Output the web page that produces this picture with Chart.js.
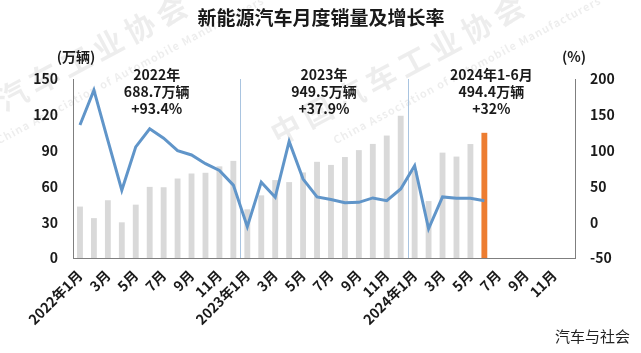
<!DOCTYPE html>
<html lang="zh">
<head>
  <meta charset="UTF-8" />
  <title>新能源汽车月度销量及增长率</title>
  <script src="https://cdn.jsdelivr.net/npm/chart.js"></script>
  <style>
    body { margin: 0; padding: 0; background: #fff; }
    .chart-container { width: 641px; height: 353px; position: relative; }
  </style>
</head>
<body>
  <div class="chart-container">
    <canvas id="nevChart"></canvas>
  </div>

  <script>
    // 月份标签（2022年1月〜2024年12月）
    const monthLabels = [
      '2022年1月', '2月', '3月', '4月', '5月', '6月', '7月', '8月', '9月', '10月', '11月', '12月',
      '2023年1月', '2月', '3月', '4月', '5月', '6月', '7月', '8月', '9月', '10月', '11月', '12月',
      '2024年1月', '2月', '3月', '4月', '5月', '6月', '7月', '8月', '9月', '10月', '11月', '12月'
    ];
    // 月度销量（万辆）
    const salesValues = [
      43.1, 33.4, 48.4, 29.9, 44.7, 59.6, 59.3, 66.6, 70.8, 71.4, 76.8, 81.4,
      40.8, 52.5, 65.3, 63.6, 71.7, 80.6, 78.0, 84.6, 90.4, 95.6, 102.6, 119.1,
      72.9, 47.7, 88.3, 85.0, 95.5, 104.9, null, null, null, null, null, null
    ];
    // 同比增长率（%）
    const growthValues = [
      135.8, 184.4, 114.2, 44.6, 105.2, 130.5, 117.3, 100.0, 93.9, 81.7, 72.3, 51.8,
      -6.3, 55.9, 34.8, 112.8, 60.2, 35.2, 31.6, 27.1, 27.7, 33.9, 30.0, 46.4,
      78.8, -9.2, 35.3, 33.5, 33.3, 30.1, null, null, null, null, null, null
    ];
    // 年度注释
    const yearNotes = [
      ['2022年', '688.7万辆', '+93.4%'],
      ['2023年', '949.5万辆', '+37.9%'],
      ['2024年1-6月', '494.4万辆', '+32%']
    ];
    const leftTicks = { min: 0, max: 150, step: 30 };
    const rightTicks = { min: -50, max: 200, step: 50 };

    const FONT = '"Noto Sans CJK SC", "Noto Sans", sans-serif';

    // 水印
    function drawWatermark(ctx) {
      ctx.save();
      [-59, 278].forEach(x0 => {
        ctx.save();
        ctx.translate(x0, 146);
        ctx.rotate(-28 * Math.PI / 180);
        ctx.fillStyle = 'rgba(0, 0, 0, 0.07)';
        ctx.textAlign = 'left';
        ctx.textBaseline = 'alphabetic';
        ctx.font = 'bold 30px ' + FONT;
        ctx.letterSpacing = '6px';
        ctx.fillText('中国汽车工业协会', 0, 0);
        ctx.font = 'bold 11px ' + FONT;
        ctx.letterSpacing = '1px';
        ctx.fillText('China Association of Automobile Manufacturers', 52, 26);
        ctx.restore();
      });
      ctx.restore();
    }

    // 标题・注释・分隔线
    const overlayPlugin = {
      id: 'overlay',
      beforeDraw(chart) {
        const ctx = chart.ctx;
        ctx.save();
        ctx.fillStyle = '#fff';
        ctx.fillRect(0, 0, chart.width, chart.height);
        ctx.restore();
        drawWatermark(ctx);
      },
      beforeDatasetsDraw(chart) {
        const ctx = chart.ctx;
        const x = chart.scales.x;
        const area = chart.chartArea;
        ctx.save();
        ctx.strokeStyle = '#a9c4e0';
        ctx.lineWidth = 1;
        [12, 24].forEach(i => {
          const px = Math.round((x.getPixelForValue(i - 1) + x.getPixelForValue(i)) / 2) + 0.5;
          ctx.beginPath();
          ctx.moveTo(px, area.top);
          ctx.lineTo(px, area.bottom);
          ctx.stroke();
        });
        ctx.restore();
      },
      afterDraw(chart) {
        const ctx = chart.ctx;
        const x = chart.scales.x;
        const half = (x.getPixelForValue(1) - x.getPixelForValue(0)) / 2;
        ctx.save();
        ctx.fillStyle = '#1a1a1a';
        ctx.textAlign = 'center';
        ctx.textBaseline = 'middle';
        ctx.font = 'bold 19px ' + FONT;
        ctx.fillText('新能源汽车月度销量及增长率', 321, 18);

        ctx.font = 'bold 14px ' + FONT;
        ctx.fillText('(万辆)', 76, 57);
        ctx.fillText('(%)', 574, 57);

        yearNotes.forEach((lines, k) => {
          const cx = (x.getPixelForValue(k * 12) - half + x.getPixelForValue(k * 12 + 11) + half) / 2;
          lines.forEach((t, j) => ctx.fillText(t, cx, 75 + j * 17));
        });

        ctx.font = '15px ' + FONT;
        ctx.fillStyle = '#222';
        ctx.textAlign = 'right';
        ctx.fillText('汽车与社会', 630, 336);
        ctx.restore();
      }
    };

    const ctx = document.getElementById('nevChart').getContext('2d');
    new Chart(ctx, {
      data: {
        labels: monthLabels,
        datasets: [
          {
            type: 'line',
            label: '增长率',
            data: growthValues,
            yAxisID: 'y1',
            borderColor: '#6095c9',
            borderWidth: 3,
            pointRadius: 0,
            tension: 0,
            spanGaps: false,
            order: 0
          },
          {
            type: 'bar',
            label: '销量',
            data: salesValues,
            yAxisID: 'y',
            backgroundColor: c => c.dataIndex === 29 ? '#ed7d31' : '#d9d9d9',
            barPercentage: 0.42,
            categoryPercentage: 1,
            order: 1
          }
        ]
      },
      options: {
        responsive: true,
        maintainAspectRatio: false,
        animation: false,
        layout: { padding: { top: 79, left: 0, right: 0, bottom: 0 } },
        plugins: {
          legend: { display: false },
          tooltip: { enabled: false }
        },
        scales: {
          x: {
            grid: { display: false, drawTicks: false },
            border: { display: true, color: '#7f7f7f', width: 1 },
            ticks: {
              autoSkip: false,
              maxRotation: 45,
              minRotation: 45,
              padding: 9,
              color: '#1a1a1a',
              font: { family: FONT, size: 14, weight: 'bold' },
              callback: function (val, i) { return i % 2 === 0 ? this.getLabelForValue(val) : ''; }
            },
            afterFit: s => { s.height = 95; }
          },
          y: {
            position: 'left',
            min: leftTicks.min,
            max: leftTicks.max,
            grid: { display: false, drawTicks: false },
            border: { display: true, color: '#7f7f7f', width: 1 },
            ticks: {
              stepSize: leftTicks.step,
              padding: 15,
              color: '#1a1a1a',
              font: { family: FONT, size: 14, weight: 'bold' }
            },
            afterFit: s => { s.width = 73; }
          },
          y1: {
            position: 'right',
            min: rightTicks.min,
            max: rightTicks.max,
            grid: { display: false, drawTicks: false },
            border: { display: true, color: '#7f7f7f', width: 1 },
            ticks: {
              stepSize: rightTicks.step,
              padding: 15,
              color: '#1a1a1a',
              font: { family: FONT, size: 14, weight: 'bold' }
            },
            afterFit: s => { s.width = 66; }
          }
        }
      },
      plugins: [overlayPlugin]
    });
  </script>
</body>
</html>
